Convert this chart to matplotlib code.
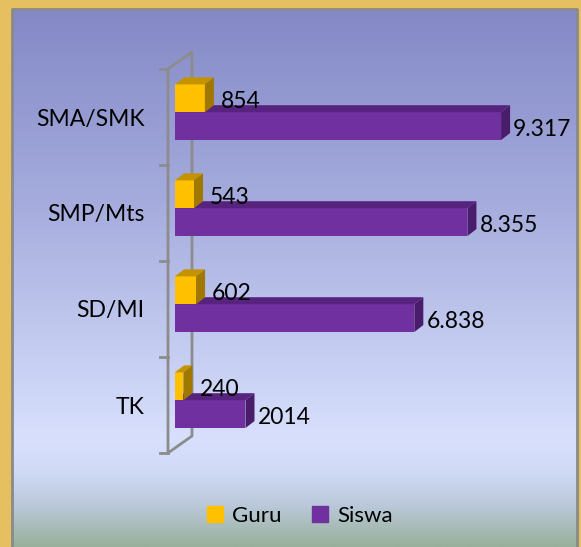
import numpy as np
import matplotlib.pyplot as plt
from matplotlib.patches import Polygon, Patch, Rectangle
from matplotlib.colors import LinearSegmentedColormap

categories = ['TK', 'SD/MI', 'SMP/Mts', 'SMA/SMK']
guru = [240, 602, 543, 854]
siswa = [2014, 6838, 8355, 9317]
guru_labels = ['240', '602', '543', '854']
siswa_labels = ['2014', '6.838', '8.355', '9.317']

plt.rcParams['font.family'] = ['Lato', 'DejaVu Sans']

W, H = 581, 547
fig = plt.figure(figsize=(W / 100, H / 100), dpi=100)

# background: gold frame + gradient panel
bg = fig.add_axes([0, 0, 1, 1])
bg.set_xlim(0, W)
bg.set_ylim(H, 0)
bg.axis('off')
bg.add_patch(Rectangle((0, 0), W, H, color='#E6C060', zorder=0))
stops = [(0.0, '#8489C6'), (0.35, '#A4ABDC'), (0.80, '#D8E0FD'),
         (0.86, '#D0DAF5'), (0.92, '#BCCADC'), (1.0, '#98B09C')]
cmap = LinearSegmentedColormap.from_list('panel', stops)
grad = np.linspace(0, 1, 256).reshape(-1, 1)
bg.imshow(grad, cmap=cmap, aspect='auto', extent=(12, 577, H, 9), zorder=1)
bg.plot([12, 12, 577, 577], [H, 9, 9, H], color='#8A8A8A', lw=2, zorder=2)

# main axes, front plane
ax = fig.add_axes([175 / W, (H - 453) / H, 385 / W, 384 / H])
ax.patch.set_alpha(0)
xmax = 11000
ax.set_xlim(0, xmax)
ax.set_ylim(-0.5, len(categories) - 0.5)
for s in ax.spines.values():
    s.set_visible(False)
ax.set_xticks([])
y = np.arange(len(categories))
ax.set_yticks(y)
ax.set_yticklabels(categories, fontsize=16.5)
ax.tick_params(axis='y', length=0, pad=22)

pxx = 385 / xmax   # pixels per x unit
pxy = 384 / len(categories)  # pixels per y unit


def px(dx, dy):
    return dx / pxx, dy / pxy


# side wall outline
fx, _ = px(-7, 0)
wdx, wdy = px(24, 17)
top = len(categories) - 0.5
wall_x = [fx, fx, fx + wdx, fx + wdx, fx]
wall_y = [-0.5, top, top + wdy, -0.5 + wdy, -0.5]
ax.plot(wall_x, wall_y, color='#8C8C8C', lw=2, clip_on=False, zorder=1)
tk, _ = px(-15, 0)
for b in np.arange(-0.5, top + 0.01, 1):
    ax.plot([tk, fx], [b, b], color='#8C8C8C', lw=2, clip_on=False, zorder=1)

ddx, ddy = px(9, 7)
h = 0.29
split = 0.05


def bar3d(vals, y0, front, topc, side, z):
    for yi, v in zip(y, vals):
        b = yi + y0
        ax.barh(b + h / 2, v, height=h, color=front, zorder=z)
        ax.add_patch(Polygon([(0, b + h), (v, b + h), (v + ddx, b + h + ddy),
                              (ddx, b + h + ddy)], closed=True,
                             facecolor=topc, edgecolor='none', zorder=z, clip_on=False))
        ax.add_patch(Polygon([(v, b), (v, b + h), (v + ddx, b + h + ddy),
                              (v + ddx, b + ddy)], closed=True,
                             facecolor=side, edgecolor='none', zorder=z, clip_on=False))


bar3d(siswa, split - h, '#7030A0', '#58237F', '#4A1C6C', 2)
bar3d(guru, split, '#FFC000', '#C39300', '#A07800', 3)

for yi, v, lab in zip(y, guru, guru_labels):
    ax.annotate(lab, (v + ddx, yi + split + h / 2), xytext=(7, -3),
                textcoords='offset pixels', va='center', ha='left',
                fontsize=16.5, zorder=5, annotation_clip=False)
for yi, v, lab in zip(y, siswa, siswa_labels):
    ax.annotate(lab, (v + ddx, yi + split - h / 2), xytext=(3, -3),
                textcoords='offset pixels', va='center', ha='left',
                fontsize=16.5, zorder=5, annotation_clip=False)

handles = [Patch(color='#FFC000', label='Guru'), Patch(color='#7030A0', label='Siswa')]
fig.legend(handles=handles, loc='center', bbox_to_anchor=(300 / W, 1 - 516 / H),
           ncol=2, frameon=False, fontsize=16, handlelength=0.7, handleheight=0.7,
           handletextpad=0.4, columnspacing=1.4)

fig.savefig('out.png', dpi=100)
